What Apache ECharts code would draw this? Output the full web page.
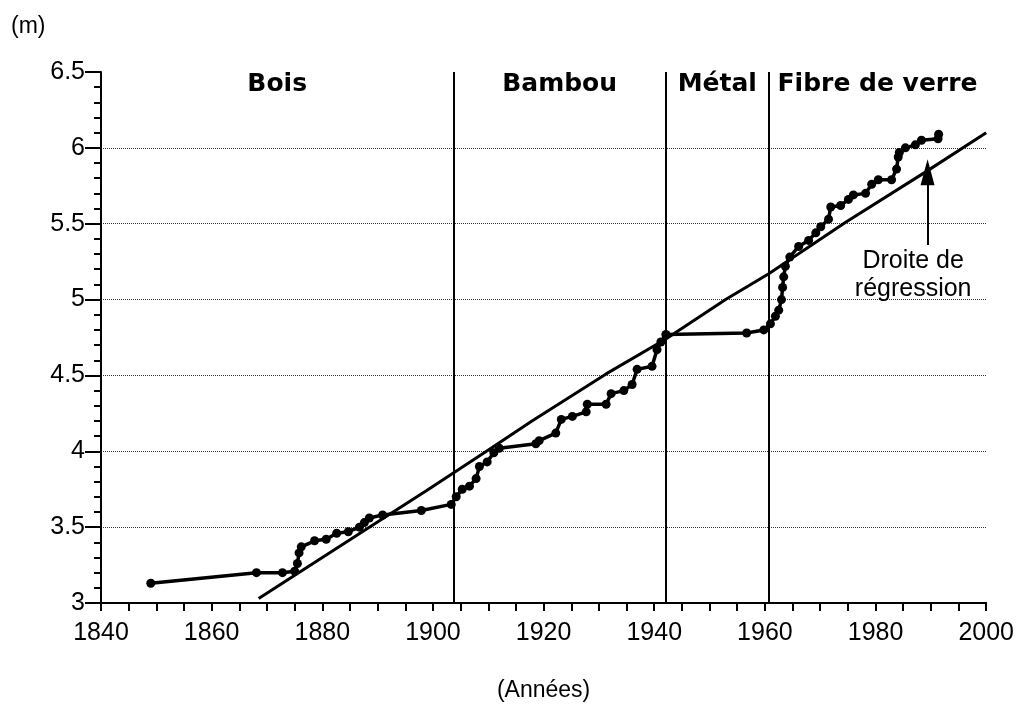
<!DOCTYPE html>
<html>
<head>
<meta charset="utf-8">
<script src="https://cdn.jsdelivr.net/npm/echarts@6/dist/echarts.min.js"></script>
<style>
html,body{margin:0;padding:0;background:#fff;}
#chart{width:1017px;height:707px;}
</style>
</head>
<body>
<div id="chart"></div>
<script>
// World pole-vault record progression (m) by year
const recordYears = [1849, 1868.1, 1872.8, 1875.0, 1875.5, 1875.8, 1876.2, 1878.6, 1880.7, 1882.6, 1884.7, 1886.7, 1887.6, 1888.5, 1890.9, 1897.9,
  1903.3, 1904.2, 1905.3, 1906.6, 1907.8, 1908.4, 1909.8, 1911.0, 1912.0, 1918.6, 1919.2, 1922.2, 1923.2, 1925.2, 1927.7, 1927.9,
  1931.3, 1932.2, 1934.5, 1936.0, 1936.9, 1939.6, 1940.5, 1941.2, 1942.1, 1956.7, 1959.8, 1961.0, 1961.9, 1962.5, 1963.0, 1963.2,
  1963.4, 1963.7, 1964.5, 1966.1, 1967.9, 1969.2, 1970.1, 1971.5, 1971.9, 1973.7, 1975.1, 1976.0, 1978.2, 1979.3, 1980.5, 1982.9,
  1983.8, 1984.1, 1984.3, 1985.4, 1987.2, 1988.3, 1991.3, 1991.4];
const recordHeights = [3.13, 3.20, 3.20, 3.21, 3.26, 3.33, 3.37, 3.41, 3.42, 3.46, 3.47, 3.50, 3.53, 3.56, 3.58, 3.61,
  3.65, 3.70, 3.75, 3.77, 3.82, 3.90, 3.93, 3.99, 4.02, 4.05, 4.07, 4.12, 4.21, 4.23, 4.26, 4.31,
  4.31, 4.38, 4.40, 4.44, 4.54, 4.56, 4.67, 4.72, 4.77, 4.78, 4.80, 4.84, 4.89, 4.93, 5.00, 5.08,
  5.15, 5.22, 5.28, 5.35, 5.39, 5.44, 5.48, 5.53, 5.61, 5.62, 5.66, 5.69, 5.70, 5.76, 5.79, 5.79,
  5.86, 5.94, 5.97, 6.00, 6.02, 6.05, 6.06, 6.09];

// Regression line
const regYears = [1868.5, 1888.5, 1898.8, 1910.5, 1917.9, 1931.3, 1942.1, 1952.9, 1960.7, 1974.6, 1989.0, 2000.0];
const regHeights = [3.03, 3.50, 3.74, 4.02, 4.20, 4.51, 4.74, 5.00, 5.17, 5.51, 5.84, 6.10];

// Material eras (boundaries in years)
const eraNames = ['Bois', 'Bambou', 'Métal', 'Fibre de verre'];
const eraBounds = [1840, 1903.7, 1942.1, 1960.7, 2000];

// Axis settings
const xMin = 1840, xMax = 2000, xStep = 20;
const yMin = 3, yMax = 6.5, yStep = 0.5;

const recordData = recordYears.map((y, i) => [y, recordHeights[i]]);
const regData = regYears.map((y, i) => [y, regHeights[i]]);

const eraAreas = eraNames.map((n, i) => [{ xAxis: eraBounds[i], name: n }, { xAxis: eraBounds[i + 1] }]);
const eraLines = eraBounds.slice(1, -1).map(b => ({ xAxis: b }));

const chart = echarts.init(document.getElementById('chart'));
const tickFont = { fontFamily: 'Liberation Sans', fontSize: 25, color: '#000' };

chart.setOption({
  animation: false,
  backgroundColor: '#fff',
  grid: { left: 101, right: 29, top: 72, bottom: 103 },
  graphic: [{
    type: 'text', left: 11, top: 15,
    style: { text: '(m)', fontFamily: 'Liberation Sans', fontSize: 23, fill: '#000' }
  }],
  xAxis: {
    type: 'value', min: xMin, max: xMax, interval: xStep,
    name: '(Années)', nameLocation: 'middle', nameGap: 76,
    nameTextStyle: { fontFamily: 'Liberation Sans', fontSize: 23, color: '#000' },
    axisLine: { lineStyle: { color: '#000', width: 2 } },
    axisTick: { show: true, length: 8, lineStyle: { color: '#000', width: 2 } },
    minorTick: { show: true, splitNumber: 4, length: 8, lineStyle: { color: '#000', width: 2 } },
    axisLabel: Object.assign({ margin: 18, formatter: v => String(v) }, tickFont),
    splitLine: { show: false }
  },
  yAxis: {
    type: 'value', min: yMin, max: yMax, interval: yStep,
    axisLine: { show: true, lineStyle: { color: '#000', width: 2 } },
    axisTick: { show: true, length: 16, lineStyle: { color: '#000', width: 2 } },
    minorTick: { show: true, splitNumber: 5, length: 7, lineStyle: { color: '#000', width: 2 } },
    axisLabel: Object.assign({ margin: 16, formatter: v => String(v) }, tickFont),
    splitLine: { show: true, showMinLine: false, showMaxLine: false, lineStyle: { color: '#333', type: 'dotted', width: 1 } }
  },
  series: [
    {
      name: 'Records', type: 'line', data: recordData,
      symbol: 'circle', symbolSize: 9, showSymbol: true,
      lineStyle: { color: '#000', width: 3.5 },
      itemStyle: { color: '#000' },
      z: 3,
      markLine: {
        silent: true, symbol: 'none', label: { show: false },
        lineStyle: { color: '#000', width: 2, type: 'solid' },
        data: eraLines
      },
      markArea: {
        silent: true,
        itemStyle: { color: 'rgba(0,0,0,0)' },
        label: {
          show: true, position: 'insideTop', distance: 0,
          fontFamily: 'DejaVu Sans', fontWeight: 'bold', fontSize: 25, color: '#000'
        },
        data: eraAreas
      }
    },
    {
      name: 'Droite de régression', type: 'line', data: regData,
      symbol: 'none', smooth: false,
      lineStyle: { color: '#000', width: 3 },
      z: 2,
      markLine: {
        silent: true, symbol: ['none', 'triangle'], symbolSize: [14, 26],
        label: { show: false },
        lineStyle: { color: '#000', width: 2, type: 'solid' },
        data: [[{ coord: [1989.4, 5.36] }, { coord: [1989.4, 5.84] }]]
      },
      markPoint: {
        silent: true, symbol: 'circle', symbolSize: 0,
        label: {
          show: true, position: 'inside', align: 'center', verticalAlign: 'middle',
          formatter: 'Droite de\nrégression', lineHeight: 28,
          fontFamily: 'Liberation Sans', fontSize: 25, color: '#000'
        },
        data: [{ coord: [1986.8, 5.16] }]
      }
    }
  ]
});
</script>
</body>
</html>
